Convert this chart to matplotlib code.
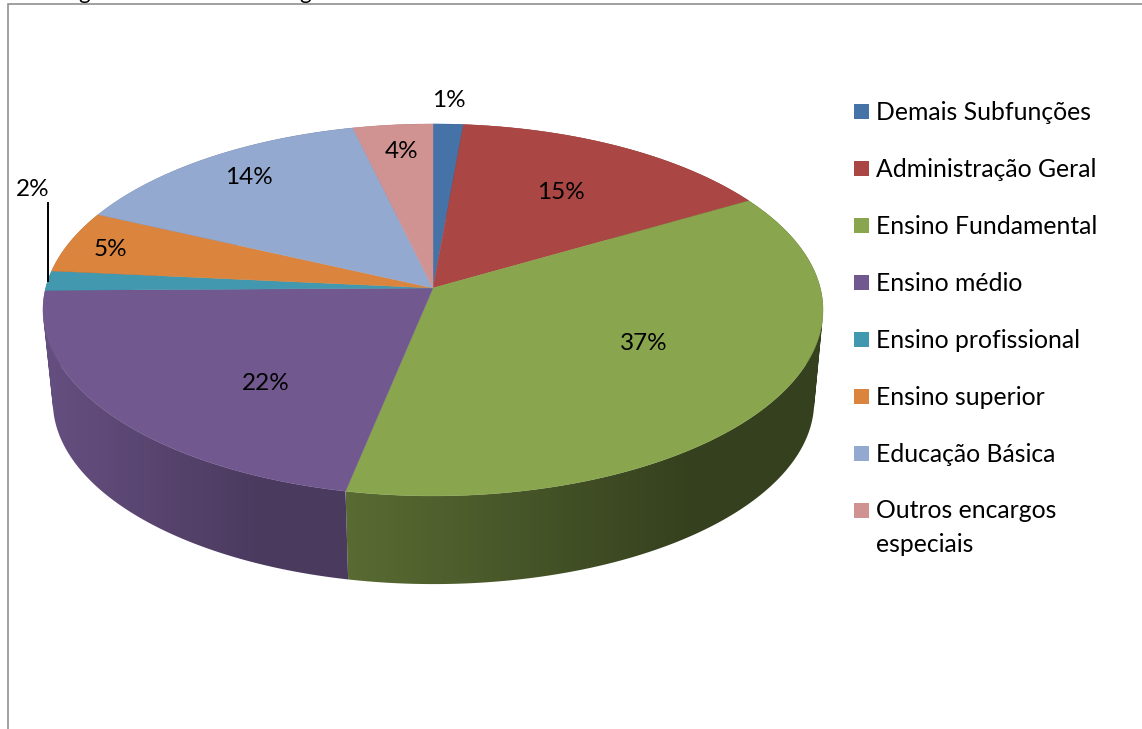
import numpy as np
import matplotlib
matplotlib.use('Agg')
import matplotlib.pyplot as plt
from matplotlib.colors import to_rgb
from matplotlib.patches import Polygon, Rectangle
from matplotlib.path import Path

plt.rcParams['font.family'] = ['Lato', 'DejaVu Sans']

categories = ['Demais Subfunções', 'Administração Geral', 'Ensino Fundamental',
              'Ensino médio', 'Ensino profissional', 'Ensino superior',
              'Educação Básica', 'Outros encargos\nespeciais']
shares = [1.4, 15.2, 36.6, 21.6, 1.7, 5.4, 14.4, 3.7]
slice_colors = ['#4572A7', '#AA4643', '#89A54E', '#71588F',
                '#4198AF', '#DB843D', '#93A9CF', '#D19392']

# Perspective of the pie disc, in pixels
C = 0.118
TOP = dict(cx=433.0, cy=288.0, rx=387.3, ry=183.4)
BOTTOM = dict(cx=433.5, cy=380.0, rx=378.0, ry=180.0)

# Wall shading per slice: starting brightness and how much it drops to the right
WALL_START = {2: 0.65, 3: 0.90}
WALL_DROP = {2: 0.26, 3: 0.24}


def project(angle, disc):
    # angle runs clockwise from twelve o'clock
    u = np.sin(angle)
    v = np.cos(angle)
    w = 1 + C * v
    return disc['cx'] + disc['rx'] * u / w, disc['cy'] - disc['ry'] * v / w


def wall_path(tx, ty, bx, by):
    # Union of quads between the two rims, all wound the same way so that
    # the silhouette between the rims stays filled
    quads = []
    for j in range(len(tx) - 1):
        q = np.array([(tx[j], ty[j]), (tx[j + 1], ty[j + 1]),
                      (bx[j + 1], by[j + 1]), (bx[j], by[j])])
        x, y = q[:, 0], q[:, 1]
        if np.dot(x, np.roll(y, -1)) - np.dot(y, np.roll(x, -1)) < 0:
            q = q[::-1]
        quads.append(Path(np.vstack([q, q[0]]), closed=True))
    return Path.make_compound_path(*quads)


fig = plt.figure(figsize=(11.42, 7.29), dpi=100)
ax = fig.add_axes([0, 0, 1, 1])
ax.axis('off')

# Chart frame, only the top and left sides fall inside the page
ax.plot([7.5, 7.5, 1142], [729, 3.5, 3.5], color='#868686', lw=1.1,
        solid_joinstyle='miter')

# Descenders of the heading above the frame
ax.text(84, -1, 'g', fontsize=16, ha='center', va='baseline', clip_on=True)
ax.text(305, -1, 'g', fontsize=16, ha='center', va='baseline', clip_on=True)

edges = np.cumsum([0] + shares) / sum(shares) * 2 * np.pi
mids = 0.5 * (edges[:-1] + edges[1:])

# Walls go back to front, the top face then covers whatever is behind it
order = np.argsort(-np.cos(mids))
for z, i in enumerate(order):
    ts = np.linspace(edges[i], edges[i + 1], 200)
    tx, ty = project(ts, TOP)
    bx, by = project(ts, BOTTOM)

    xs = np.linspace(min(tx.min(), bx.min()), max(tx.max(), bx.max()), 300)
    pos = (xs - xs[0]) / (xs[-1] - xs[0])
    shade = WALL_START.get(i, 0.7) - WALL_DROP.get(i, 0.2) * np.minimum(pos / 0.72, 1)
    ramp = np.outer(shade, to_rgb(slice_colors[i])).reshape(1, -1, 3)
    img = ax.imshow(ramp, extent=(xs[0], xs[-1], by.max() + 2, min(ty.min(), by.min()) - 2),
                    aspect='auto', interpolation='bilinear', zorder=1 + z * 0.01)
    img.set_clip_path(wall_path(tx, ty, bx, by), ax.transData)

# Top face
for i in range(len(shares)):
    ts = np.linspace(edges[i], edges[i + 1], max(int(shares[i] * 8), 6))
    tx, ty = project(ts, TOP)
    pts = [(TOP['cx'], TOP['cy'])] + list(zip(tx, ty))
    ax.add_patch(Polygon(pts, closed=True, facecolor=slice_colors[i],
                         edgecolor=slice_colors[i], lw=0.3, zorder=2))

# Percentage labels
label_pos = [(449, 100), (561, 192), (644, 343), (266, 383),
             (33, 189), (110, 249), (249, 177), (402, 151)]
for share, (x, y) in zip(shares, label_pos):
    ax.text(x, y, f'{share:.0f}%', fontsize=17.5, color='black',
            ha='center', va='center', zorder=4)

# Leader line for the thin slice
lx, ly = project(mids[4], TOP)
ax.plot([lx, lx], [203, ly], color='black', lw=1.4, zorder=3)

# Legend
for i, name in enumerate(categories):
    row = 111.5 + 57 * i
    ax.add_patch(Rectangle((854, row - 7.5), 15, 15, facecolor=slice_colors[i],
                           edgecolor='none'))
    for k, line in enumerate(name.split('\n')):
        ax.text(876, row + 0.5 + 33 * k, line, fontsize=17.8, color='black',
                ha='left', va='center')

ax.set_xlim(0, 1142)
ax.set_ylim(729, 0)

fig.savefig('out.png', dpi=100, facecolor='white')
